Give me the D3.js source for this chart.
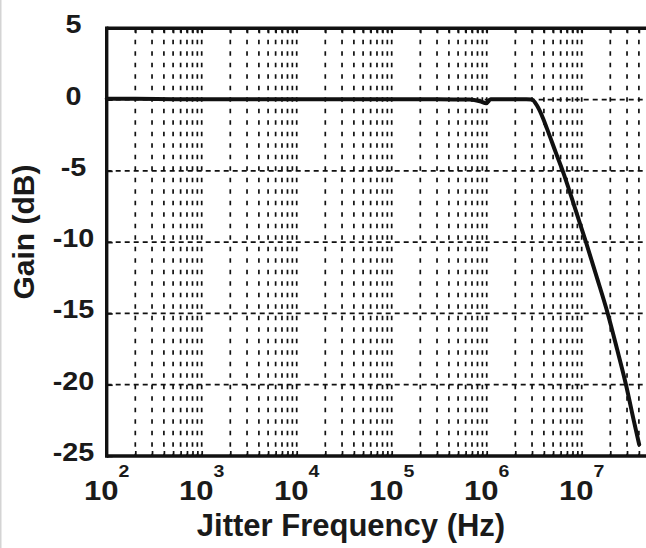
<!DOCTYPE html>
<html><head><meta charset="utf-8">
<script src="https://cdn.jsdelivr.net/npm/d3@7"></script>
<style>
html,body{margin:0;padding:0;background:#fff;}
svg{display:block;}
text{font-family:"Liberation Sans",Arial,Helvetica,sans-serif;font-weight:bold;fill:#1a1a1a;}
</style></head>
<body>
<svg id="chart" width="646" height="548"></svg>
<script>
// ---- data ----
const freqHz = [100, 200, 500, 1e3, 3e3, 1e4, 3e4, 1e5, 3e5, 6.6e5, 8.5e5, 9.9e5, 1.1e6, 1.5e6, 2e6, 2.6e6, 2.98e6, 3.37e6, 3.8e6, 4.29e6, 5.33e6, 6.31e6, 8.4e6, 1.109e7, 1.449e7, 1.879e7, 2.356e7, 2.925e7, 3.53e7, 4.03e7];
const gainDb = [0.05, 0.05, 0.03, 0.02, 0.03, 0.02, 0.02, 0.03, 0.02, 0, -0.12, -0.26, 0.02, 0.03, 0.03, 0.02, 0, -0.4, -1.1, -2.0, -3.7, -5, -7.5, -10, -12.5, -15, -17.5, -20, -22.5, -24.2];
const yTicks = [5, 0, -5, -10, -15, -20, -25];
const xDecades = [2, 3, 4, 5, 6, 7];
const xLabel = "Jitter Frequency (Hz)";
const yLabel = "Gain (dB)";

// ---- layout ----
const pL = 106.7, pT = 28.3, pB = 456, pR = 648.1;
const svg = d3.select("#chart");
const x = d3.scaleLog().domain([100, 5e7]).range([pL, pR]);
const y = d3.scaleLinear().domain([-25, 5]).range([pB, pT]);

// light frame edge at the left of the picture
svg.append("line").attr("x1", 0.75).attr("x2", 0.75).attr("y1", 0).attr("y2", 548)
  .attr("stroke", "#d4d4d4").attr("stroke-width", 1.5);

// grid values: all 1..9 x 10^k within domain
const gridX = [];
for (let k = 2; k <= 7; k++) for (let m = 1; m <= 9; m++) {
  const v = m * Math.pow(10, k);
  if (v > 100 && v <= 5e7) gridX.push(v);
}
svg.append("g").selectAll("line").data(gridX).join("line")
  .attr("x1", d => x(d)).attr("x2", d => x(d))
  .attr("y1", pT).attr("y2", pB)
  .attr("stroke", "#111").attr("stroke-width", 1.7)
  .attr("stroke-dasharray", "4.5,7");

svg.append("g").selectAll("line").data(yTicks.filter(v => v < 5 && v > -25)).join("line")
  .attr("x1", pL).attr("x2", pR)
  .attr("y1", d => y(d)).attr("y2", d => y(d))
  .attr("stroke", "#111").attr("stroke-width", 1.7)
  .attr("stroke-dasharray", "5,4");

// axes
const xAxisB = d3.axisBottom(x).tickValues(gridX).tickSize(-5).tickFormat("");
const gB = svg.append("g").attr("transform", `translate(0,${pB})`).call(xAxisB);
const xAxisT = d3.axisTop(x).tickValues(gridX).tickSize(-5).tickFormat("");
const gT = svg.append("g").attr("transform", `translate(0,${pT})`).call(xAxisT);
const yAxisL = d3.axisLeft(y).tickValues(yTicks).tickSize(-6).tickFormat("");
const gL = svg.append("g").attr("transform", `translate(${pL},0)`).call(yAxisL);
[gB, gT, gL].forEach(g => {
  g.selectAll(".tick line").attr("stroke", "#111").attr("stroke-width", 1.7);
  g.select(".domain").remove();
});
// axis frame lines
svg.append("line").attr("x1", pL).attr("x2", pR + 2).attr("y1", pB).attr("y2", pB)
  .attr("stroke", "#111").attr("stroke-width", 3.6);
svg.append("line").attr("x1", pL).attr("x2", pR + 2).attr("y1", pT).attr("y2", pT)
  .attr("stroke", "#111").attr("stroke-width", 3.4);
svg.append("line").attr("x1", pL).attr("x2", pL).attr("y1", pT - 1.7).attr("y2", pB + 1.8)
  .attr("stroke", "#111").attr("stroke-width", 3.4);

// y tick labels
svg.append("g").selectAll("text").data(yTicks).join("text")
  .attr("transform", d => `translate(73.5,${y(d) + 5}) scale(1.15,1)`)
  .attr("text-anchor", "middle").attr("font-size", 25)
  .text(d => d);

// x tick labels 10^k
const xl = svg.append("g").selectAll("text").data(xDecades).join("text")
  .attr("transform", d => `translate(${x(Math.pow(10, d))},500) scale(1.15,1)`)
  .attr("text-anchor", "middle").attr("font-size", 27);
xl.append("tspan").text("10");
xl.append("tspan").attr("dy", -23).attr("font-size", 17).text(d => d);

// titles
svg.append("text").attr("x", 351).attr("y", 536).attr("text-anchor", "middle")
  .attr("font-size", 31).text(xLabel);
svg.append("text").attr("transform", "translate(34,232) rotate(-90)")
  .attr("text-anchor", "middle").attr("font-size", 30).text(yLabel);

// curve
const line = d3.line().x((d, i) => x(freqHz[i])).y(d => y(d)).curve(d3.curveMonotoneX);
svg.append("path").datum(gainDb).attr("d", line)
  .attr("fill", "none").attr("stroke", "#111").attr("stroke-width", 4)
  .attr("stroke-linejoin", "round").attr("stroke-linecap", "round");
</script>
</body></html>
